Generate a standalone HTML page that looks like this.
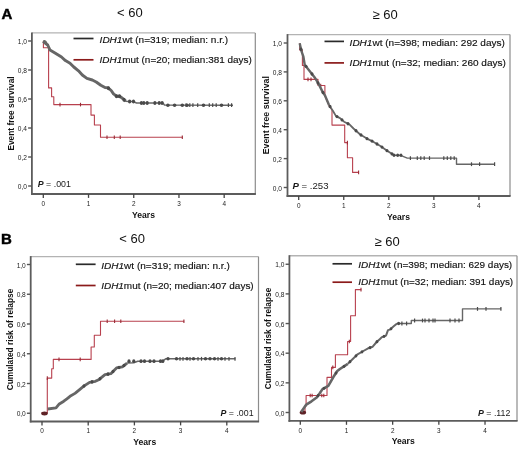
<!DOCTYPE html><html><head><meta charset="utf-8"><style>html,body{margin:0;padding:0;background:#fff;}svg{display:block;filter:blur(0.25px);}text{font-family:"Liberation Sans", sans-serif;}</style></head><body>
<svg width="520" height="449" viewBox="0 0 520 449">
<text x="1.4" y="18.6" font-size="15" font-weight="bold" fill="#000" stroke="#000" stroke-width="0.45">A</text>
<text x="1.0" y="244.2" font-size="15" font-weight="bold" fill="#000" stroke="#000" stroke-width="0.45">B</text>
<text x="117" y="17.4" font-size="13" fill="#111">&lt; 60</text>
<text x="372.5" y="18.7" font-size="13" fill="#111">&#8805; 60</text>
<text x="119.3" y="243.4" font-size="13" fill="#111">&lt; 60</text>
<text x="374.5" y="245.7" font-size="13" fill="#111">&#8805; 60</text>
<line x1="31.9" y1="32.9" x2="255.3" y2="32.9" stroke="#b3b3b3" stroke-width="1.4"/>
<line x1="255.3" y1="32.9" x2="255.3" y2="194" stroke="#8c8c8c" stroke-width="1.2"/>
<line x1="31.9" y1="32.4" x2="31.9" y2="194.9" stroke="#5c5c5c" stroke-width="1.8"/>
<line x1="31.0" y1="194" x2="255.9" y2="194" stroke="#5c5c5c" stroke-width="1.8"/>
<line x1="28.099999999999998" y1="186.00" x2="31.9" y2="186.00" stroke="#555" stroke-width="1.4"/>
<text x="27" y="189.10" font-size="6.6" fill="#222" text-anchor="end">0,0</text>
<line x1="28.099999999999998" y1="157.00" x2="31.9" y2="157.00" stroke="#555" stroke-width="1.4"/>
<text x="27" y="160.10" font-size="6.6" fill="#222" text-anchor="end">0,2</text>
<line x1="28.099999999999998" y1="128.00" x2="31.9" y2="128.00" stroke="#555" stroke-width="1.4"/>
<text x="27" y="131.10" font-size="6.6" fill="#222" text-anchor="end">0,4</text>
<line x1="28.099999999999998" y1="99.00" x2="31.9" y2="99.00" stroke="#555" stroke-width="1.4"/>
<text x="27" y="102.10" font-size="6.6" fill="#222" text-anchor="end">0,6</text>
<line x1="28.099999999999998" y1="70.00" x2="31.9" y2="70.00" stroke="#555" stroke-width="1.4"/>
<text x="27" y="73.10" font-size="6.6" fill="#222" text-anchor="end">0,8</text>
<line x1="28.099999999999998" y1="41.00" x2="31.9" y2="41.00" stroke="#555" stroke-width="1.4"/>
<text x="27" y="44.10" font-size="6.6" fill="#222" text-anchor="end">1,0</text>
<line x1="43.30" y1="194" x2="43.30" y2="197.9" stroke="#444" stroke-width="1.3"/>
<text x="43.30" y="205.60" font-size="6.4" fill="#222" text-anchor="middle">0</text>
<line x1="88.52" y1="194" x2="88.52" y2="197.9" stroke="#444" stroke-width="1.3"/>
<text x="88.52" y="205.60" font-size="6.4" fill="#222" text-anchor="middle">1</text>
<line x1="133.74" y1="194" x2="133.74" y2="197.9" stroke="#444" stroke-width="1.3"/>
<text x="133.74" y="205.60" font-size="6.4" fill="#222" text-anchor="middle">2</text>
<line x1="178.96" y1="194" x2="178.96" y2="197.9" stroke="#444" stroke-width="1.3"/>
<text x="178.96" y="205.60" font-size="6.4" fill="#222" text-anchor="middle">3</text>
<line x1="224.18" y1="194" x2="224.18" y2="197.9" stroke="#444" stroke-width="1.3"/>
<text x="224.18" y="205.60" font-size="6.4" fill="#222" text-anchor="middle">4</text>
<text x="0" y="0" transform="translate(14.4,113.5) rotate(-90)" font-size="9.2" font-weight="bold" fill="#111" text-anchor="middle" textLength="74.2" lengthAdjust="spacingAndGlyphs">Event free survival</text>
<text x="143.5" y="217.8" font-size="8.6" font-weight="bold" fill="#111" text-anchor="middle">Years</text>
<line x1="73.5" y1="38.5" x2="93.5" y2="38.5" stroke="#2a2a2a" stroke-width="1.7"/>
<line x1="73.5" y1="59.8" x2="93.5" y2="59.8" stroke="#8b1a1a" stroke-width="1.7"/>
<text x="99.6" y="42.8" font-size="9.6" fill="#111" stroke="#111" stroke-width="0.15" textLength="128.5" lengthAdjust="spacingAndGlyphs"><tspan font-style="italic">IDH1</tspan>wt (n=319; median: n.r.)</text>
<text x="99.6" y="62.7" font-size="9.6" fill="#111" stroke="#111" stroke-width="0.15" textLength="152.2" lengthAdjust="spacingAndGlyphs"><tspan font-style="italic">IDH1</tspan>mut (n=20; median:381 days)</text>
<text x="37.8" y="186.6" font-size="8.8" fill="#1a1a1a"><tspan font-weight="bold" font-style="italic">P</tspan> = .001</text>
<polyline points="43.40,41.00 43.40,41.00 43.40,47.80 48.60,47.80 48.60,87.90 51.60,87.90 51.60,96.80 53.80,96.80 53.80,104.60 91.00,104.60 91.00,115.10 94.40,115.10 94.40,125.00 100.50,125.00 100.50,137.30 182.60,137.30 182.60,137.30" fill="none" stroke="#b8404e" stroke-width="1.1" stroke-linejoin="round" stroke-linecap="butt" />
<line x1="60.00" y1="102.80" x2="60.00" y2="106.40" stroke="#9a2a35" stroke-width="1.1"/>
<line x1="80.50" y1="102.80" x2="80.50" y2="106.40" stroke="#9a2a35" stroke-width="1.1"/>
<line x1="107.00" y1="135.50" x2="107.00" y2="139.10" stroke="#9a2a35" stroke-width="1.1"/>
<line x1="114.30" y1="135.50" x2="114.30" y2="139.10" stroke="#9a2a35" stroke-width="1.1"/>
<line x1="120.20" y1="135.50" x2="120.20" y2="139.10" stroke="#9a2a35" stroke-width="1.1"/>
<line x1="182.30" y1="135.50" x2="182.30" y2="139.10" stroke="#9a2a35" stroke-width="1.1"/>
<polyline points="43.10,41.40 47.70,45.00 50.00,50.00 55.40,53.20 61.50,57.00 65.40,60.60 70.00,63.20 73.80,67.00 78.50,70.80 82.30,75.00 86.90,78.40 92.30,80.00 96.20,82.00 100.80,85.30 105.00,87.60 108.10,87.80 111.20,90.50 113.50,93.90 116.50,96.20 119.60,96.20 122.70,98.50 125.80,101.20" fill="none" stroke="#666" stroke-width="2.9" stroke-linejoin="round" stroke-linecap="butt" />
<polyline points="122.70,98.50 125.80,101.20 129.60,101.60 133.50,101.60 136.50,103.00 163.00,103.00 164.50,105.10 233.00,105.20" fill="none" stroke="#666" stroke-width="1.5" stroke-linejoin="round" stroke-linecap="butt" />
<ellipse cx="108.50" cy="88.15" rx="1.6" ry="2.0" fill="#4a4a4a"/>
<ellipse cx="116.50" cy="96.20" rx="1.6" ry="2.0" fill="#4a4a4a"/>
<ellipse cx="119.50" cy="96.20" rx="1.6" ry="2.0" fill="#4a4a4a"/>
<ellipse cx="124.00" cy="99.63" rx="1.6" ry="2.0" fill="#4a4a4a"/>
<ellipse cx="129.60" cy="101.60" rx="1.6" ry="2.0" fill="#4a4a4a"/>
<ellipse cx="133.50" cy="101.60" rx="1.6" ry="2.0" fill="#4a4a4a"/>
<ellipse cx="141.40" cy="103.00" rx="1.6" ry="2.0" fill="#4a4a4a"/>
<ellipse cx="143.80" cy="103.00" rx="1.6" ry="2.0" fill="#4a4a4a"/>
<ellipse cx="147.20" cy="103.00" rx="1.6" ry="2.0" fill="#4a4a4a"/>
<ellipse cx="154.90" cy="103.00" rx="1.6" ry="2.0" fill="#4a4a4a"/>
<ellipse cx="159.20" cy="103.00" rx="1.6" ry="2.0" fill="#4a4a4a"/>
<ellipse cx="162.10" cy="103.00" rx="1.6" ry="2.0" fill="#4a4a4a"/>
<line x1="186.10" y1="103.30" x2="186.10" y2="107.10" stroke="#4a4a4a" stroke-width="1.2"/>
<line x1="189.80" y1="103.30" x2="189.80" y2="107.10" stroke="#4a4a4a" stroke-width="1.2"/>
<line x1="192.90" y1="103.30" x2="192.90" y2="107.10" stroke="#4a4a4a" stroke-width="1.2"/>
<line x1="197.70" y1="103.30" x2="197.70" y2="107.10" stroke="#4a4a4a" stroke-width="1.2"/>
<line x1="209.30" y1="103.30" x2="209.30" y2="107.10" stroke="#4a4a4a" stroke-width="1.2"/>
<line x1="212.70" y1="103.30" x2="212.70" y2="107.10" stroke="#4a4a4a" stroke-width="1.2"/>
<line x1="216.20" y1="103.30" x2="216.20" y2="107.10" stroke="#4a4a4a" stroke-width="1.2"/>
<line x1="228.40" y1="103.30" x2="228.40" y2="107.10" stroke="#4a4a4a" stroke-width="1.2"/>
<line x1="231.60" y1="103.30" x2="231.60" y2="107.10" stroke="#4a4a4a" stroke-width="1.2"/>
<ellipse cx="167.90" cy="105.20" rx="1.8" ry="1.8" fill="#4a4a4a"/>
<ellipse cx="174.60" cy="105.20" rx="1.8" ry="1.8" fill="#4a4a4a"/>
<ellipse cx="182.30" cy="105.20" rx="1.8" ry="1.8" fill="#4a4a4a"/>
<ellipse cx="187.10" cy="105.20" rx="1.8" ry="1.8" fill="#4a4a4a"/>
<ellipse cx="203.50" cy="105.20" rx="1.8" ry="1.8" fill="#4a4a4a"/>
<ellipse cx="221.50" cy="105.20" rx="1.8" ry="1.8" fill="#4a4a4a"/>
<ellipse cx="45" cy="42.2" rx="2.4" ry="1.8" fill="#666" transform="rotate(35 45 42.2)"/>
<line x1="287.5" y1="34.6" x2="510" y2="34.6" stroke="#b3b3b3" stroke-width="1.4"/>
<line x1="510" y1="34.6" x2="510" y2="196" stroke="#8c8c8c" stroke-width="1.2"/>
<line x1="287.5" y1="34.1" x2="287.5" y2="196.9" stroke="#5c5c5c" stroke-width="1.8"/>
<line x1="286.6" y1="196" x2="510.6" y2="196" stroke="#5c5c5c" stroke-width="1.8"/>
<line x1="283.7" y1="187.50" x2="287.5" y2="187.50" stroke="#555" stroke-width="1.4"/>
<text x="282" y="190.60" font-size="6.6" fill="#222" text-anchor="end">0,0</text>
<line x1="283.7" y1="158.60" x2="287.5" y2="158.60" stroke="#555" stroke-width="1.4"/>
<text x="282" y="161.70" font-size="6.6" fill="#222" text-anchor="end">0,2</text>
<line x1="283.7" y1="129.70" x2="287.5" y2="129.70" stroke="#555" stroke-width="1.4"/>
<text x="282" y="132.80" font-size="6.6" fill="#222" text-anchor="end">0,4</text>
<line x1="283.7" y1="100.80" x2="287.5" y2="100.80" stroke="#555" stroke-width="1.4"/>
<text x="282" y="103.90" font-size="6.6" fill="#222" text-anchor="end">0,6</text>
<line x1="283.7" y1="71.90" x2="287.5" y2="71.90" stroke="#555" stroke-width="1.4"/>
<text x="282" y="75.00" font-size="6.6" fill="#222" text-anchor="end">0,8</text>
<line x1="283.7" y1="43.00" x2="287.5" y2="43.00" stroke="#555" stroke-width="1.4"/>
<text x="282" y="46.10" font-size="6.6" fill="#222" text-anchor="end">1,0</text>
<line x1="298.70" y1="196" x2="298.70" y2="199.9" stroke="#444" stroke-width="1.3"/>
<text x="298.70" y="207.60" font-size="6.4" fill="#222" text-anchor="middle">0</text>
<line x1="343.75" y1="196" x2="343.75" y2="199.9" stroke="#444" stroke-width="1.3"/>
<text x="343.75" y="207.60" font-size="6.4" fill="#222" text-anchor="middle">1</text>
<line x1="388.80" y1="196" x2="388.80" y2="199.9" stroke="#444" stroke-width="1.3"/>
<text x="388.80" y="207.60" font-size="6.4" fill="#222" text-anchor="middle">2</text>
<line x1="433.85" y1="196" x2="433.85" y2="199.9" stroke="#444" stroke-width="1.3"/>
<text x="433.85" y="207.60" font-size="6.4" fill="#222" text-anchor="middle">3</text>
<line x1="478.90" y1="196" x2="478.90" y2="199.9" stroke="#444" stroke-width="1.3"/>
<text x="478.90" y="207.60" font-size="6.4" fill="#222" text-anchor="middle">4</text>
<text x="0" y="0" transform="translate(269.4,115.2) rotate(-90)" font-size="9.2" font-weight="bold" fill="#111" text-anchor="middle" textLength="78.2" lengthAdjust="spacingAndGlyphs">Event free survival</text>
<text x="398.5" y="219.5" font-size="8.6" font-weight="bold" fill="#111" text-anchor="middle">Years</text>
<line x1="324.5" y1="41.4" x2="344" y2="41.4" stroke="#2a2a2a" stroke-width="1.7"/>
<line x1="324.5" y1="62.9" x2="344" y2="62.9" stroke="#8b1a1a" stroke-width="1.7"/>
<text x="349.6" y="45.8" font-size="9.6" fill="#111" stroke="#111" stroke-width="0.15" textLength="155.3" lengthAdjust="spacingAndGlyphs"><tspan font-style="italic">IDH1</tspan>wt (n=398; median: 292 days)</text>
<text x="349.6" y="65.6" font-size="9.6" fill="#111" stroke="#111" stroke-width="0.15" textLength="156.3" lengthAdjust="spacingAndGlyphs"><tspan font-style="italic">IDH1</tspan>mut (n=32; median: 260 days)</text>
<text x="292.5" y="189.3" font-size="9.6" fill="#1a1a1a"><tspan font-weight="bold" font-style="italic">P</tspan> = .253</text>
<polyline points="299.70,43.30 299.70,50.00 302.40,50.00 302.40,65.40 304.00,65.40 304.00,79.40 318.00,79.40 318.00,85.50 324.90,85.50 324.90,96.00 329.50,106.50 332.00,110.00 332.00,125.10 344.70,125.10 344.70,142.60 347.40,142.60 347.40,157.80 352.60,157.80 352.60,172.40 359.00,172.40" fill="none" stroke="#b8404e" stroke-width="1.1" stroke-linejoin="round" stroke-linecap="butt" />
<line x1="308.00" y1="77.60" x2="308.00" y2="81.20" stroke="#9a2a35" stroke-width="1.1"/>
<line x1="311.00" y1="77.60" x2="311.00" y2="81.20" stroke="#9a2a35" stroke-width="1.1"/>
<line x1="320.70" y1="83.70" x2="320.70" y2="87.30" stroke="#9a2a35" stroke-width="1.1"/>
<line x1="347.40" y1="140.80" x2="347.40" y2="144.40" stroke="#9a2a35" stroke-width="1.1"/>
<line x1="358.60" y1="170.60" x2="358.60" y2="174.20" stroke="#9a2a35" stroke-width="1.1"/>
<polyline points="299.70,43.30 301.30,50.70 303.40,56.70 304.70,64.70 309.40,70.70 314.70,77.40 318.70,84.10 322.70,92.10 325.00,95.50 329.00,105.00" fill="none" stroke="#666" stroke-width="2.4" stroke-linejoin="round" stroke-linecap="butt" />
<polyline points="329.00,105.00 333.00,111.00 336.00,116.10 340.00,118.10 344.00,121.70 349.40,124.40 353.50,128.50 360.20,134.50 366.90,138.60 373.60,141.90 380.40,146.00 387.10,150.70 393.80,155.10 400.60,155.40" fill="none" stroke="#666" stroke-width="1.8" stroke-linejoin="round" stroke-linecap="butt" />
<ellipse cx="301.00" cy="49.31" rx="1.5" ry="1.7" fill="#4a4a4a"/>
<ellipse cx="306.00" cy="66.36" rx="1.5" ry="1.7" fill="#4a4a4a"/>
<ellipse cx="312.00" cy="73.99" rx="1.5" ry="1.7" fill="#4a4a4a"/>
<ellipse cx="318.00" cy="82.93" rx="1.5" ry="1.7" fill="#4a4a4a"/>
<ellipse cx="323.00" cy="92.54" rx="1.5" ry="1.7" fill="#4a4a4a"/>
<ellipse cx="330.00" cy="106.50" rx="1.5" ry="1.7" fill="#4a4a4a"/>
<ellipse cx="337.00" cy="116.60" rx="1.5" ry="1.7" fill="#4a4a4a"/>
<ellipse cx="342.00" cy="119.90" rx="1.5" ry="1.7" fill="#4a4a4a"/>
<ellipse cx="348.00" cy="123.70" rx="1.5" ry="1.7" fill="#4a4a4a"/>
<ellipse cx="356.00" cy="130.74" rx="1.5" ry="1.7" fill="#4a4a4a"/>
<ellipse cx="361.00" cy="134.99" rx="1.5" ry="1.7" fill="#4a4a4a"/>
<ellipse cx="367.00" cy="138.65" rx="1.5" ry="1.7" fill="#4a4a4a"/>
<ellipse cx="372.00" cy="141.11" rx="1.5" ry="1.7" fill="#4a4a4a"/>
<ellipse cx="377.00" cy="143.95" rx="1.5" ry="1.7" fill="#4a4a4a"/>
<ellipse cx="382.00" cy="147.12" rx="1.5" ry="1.7" fill="#4a4a4a"/>
<ellipse cx="387.00" cy="150.63" rx="1.5" ry="1.7" fill="#4a4a4a"/>
<ellipse cx="392.00" cy="153.92" rx="1.5" ry="1.7" fill="#4a4a4a"/>
<polyline points="400.60,155.40 407.30,158.10 456.50,158.10 456.50,164.20 495.00,164.20" fill="none" stroke="#666" stroke-width="1.4" stroke-linejoin="round" stroke-linecap="butt" />
<ellipse cx="394.00" cy="155.30" rx="1.4" ry="1.7" fill="#4a4a4a"/>
<ellipse cx="397.70" cy="155.30" rx="1.4" ry="1.7" fill="#4a4a4a"/>
<ellipse cx="401.00" cy="155.30" rx="1.4" ry="1.7" fill="#4a4a4a"/>
<line x1="410.40" y1="156.20" x2="410.40" y2="160.00" stroke="#4a4a4a" stroke-width="1.2"/>
<line x1="417.30" y1="156.20" x2="417.30" y2="160.00" stroke="#4a4a4a" stroke-width="1.2"/>
<line x1="420.80" y1="156.20" x2="420.80" y2="160.00" stroke="#4a4a4a" stroke-width="1.2"/>
<line x1="424.20" y1="156.20" x2="424.20" y2="160.00" stroke="#4a4a4a" stroke-width="1.2"/>
<line x1="429.50" y1="156.20" x2="429.50" y2="160.00" stroke="#4a4a4a" stroke-width="1.2"/>
<line x1="443.80" y1="156.20" x2="443.80" y2="160.00" stroke="#4a4a4a" stroke-width="1.2"/>
<line x1="447.30" y1="156.20" x2="447.30" y2="160.00" stroke="#4a4a4a" stroke-width="1.2"/>
<line x1="450.80" y1="156.20" x2="450.80" y2="160.00" stroke="#4a4a4a" stroke-width="1.2"/>
<line x1="454.20" y1="156.20" x2="454.20" y2="160.00" stroke="#4a4a4a" stroke-width="1.2"/>
<line x1="471.50" y1="162.30" x2="471.50" y2="166.10" stroke="#4a4a4a" stroke-width="1.2"/>
<line x1="479.60" y1="162.30" x2="479.60" y2="166.10" stroke="#4a4a4a" stroke-width="1.2"/>
<line x1="494.60" y1="162.30" x2="494.60" y2="166.10" stroke="#4a4a4a" stroke-width="1.2"/>
<line x1="30.7" y1="256.6" x2="258.5" y2="256.6" stroke="#b3b3b3" stroke-width="1.4"/>
<line x1="258.5" y1="256.6" x2="258.5" y2="421.5" stroke="#8c8c8c" stroke-width="1.2"/>
<line x1="30.7" y1="256.1" x2="30.7" y2="422.4" stroke="#5c5c5c" stroke-width="1.8"/>
<line x1="29.8" y1="421.5" x2="259.1" y2="421.5" stroke="#5c5c5c" stroke-width="1.8"/>
<line x1="26.9" y1="413.25" x2="30.7" y2="413.25" stroke="#555" stroke-width="1.4"/>
<text x="25.8" y="416.35" font-size="6.6" fill="#222" text-anchor="end">0,0</text>
<line x1="26.9" y1="383.50" x2="30.7" y2="383.50" stroke="#555" stroke-width="1.4"/>
<text x="25.8" y="386.60" font-size="6.6" fill="#222" text-anchor="end">0,2</text>
<line x1="26.9" y1="353.75" x2="30.7" y2="353.75" stroke="#555" stroke-width="1.4"/>
<text x="25.8" y="356.85" font-size="6.6" fill="#222" text-anchor="end">0,4</text>
<line x1="26.9" y1="324.00" x2="30.7" y2="324.00" stroke="#555" stroke-width="1.4"/>
<text x="25.8" y="327.10" font-size="6.6" fill="#222" text-anchor="end">0,6</text>
<line x1="26.9" y1="294.25" x2="30.7" y2="294.25" stroke="#555" stroke-width="1.4"/>
<text x="25.8" y="297.35" font-size="6.6" fill="#222" text-anchor="end">0,8</text>
<line x1="26.9" y1="264.50" x2="30.7" y2="264.50" stroke="#555" stroke-width="1.4"/>
<text x="25.8" y="267.60" font-size="6.6" fill="#222" text-anchor="end">1,0</text>
<line x1="42.00" y1="421.5" x2="42.00" y2="425.4" stroke="#444" stroke-width="1.3"/>
<text x="42.00" y="433.10" font-size="6.4" fill="#222" text-anchor="middle">0</text>
<line x1="88.20" y1="421.5" x2="88.20" y2="425.4" stroke="#444" stroke-width="1.3"/>
<text x="88.20" y="433.10" font-size="6.4" fill="#222" text-anchor="middle">1</text>
<line x1="134.40" y1="421.5" x2="134.40" y2="425.4" stroke="#444" stroke-width="1.3"/>
<text x="134.40" y="433.10" font-size="6.4" fill="#222" text-anchor="middle">2</text>
<line x1="180.60" y1="421.5" x2="180.60" y2="425.4" stroke="#444" stroke-width="1.3"/>
<text x="180.60" y="433.10" font-size="6.4" fill="#222" text-anchor="middle">3</text>
<line x1="226.80" y1="421.5" x2="226.80" y2="425.4" stroke="#444" stroke-width="1.3"/>
<text x="226.80" y="433.10" font-size="6.4" fill="#222" text-anchor="middle">4</text>
<text x="0" y="0" transform="translate(13,339.5) rotate(-90)" font-size="9.2" font-weight="bold" fill="#111" text-anchor="middle" textLength="101.5" lengthAdjust="spacingAndGlyphs">Cumulated risk of relapse</text>
<text x="144.75" y="445.2" font-size="8.6" font-weight="bold" fill="#111" text-anchor="middle">Years</text>
<line x1="75.8" y1="264.3" x2="95.6" y2="264.3" stroke="#2a2a2a" stroke-width="1.7"/>
<line x1="75.8" y1="285.5" x2="95.6" y2="285.5" stroke="#8b1a1a" stroke-width="1.7"/>
<text x="101.2" y="269.0" font-size="9.6" fill="#111" stroke="#111" stroke-width="0.15" textLength="128.6" lengthAdjust="spacingAndGlyphs"><tspan font-style="italic">IDH1</tspan>wt (n=319; median: n.r.)</text>
<text x="101.2" y="289.0" font-size="9.6" fill="#111" stroke="#111" stroke-width="0.15" textLength="152.5" lengthAdjust="spacingAndGlyphs"><tspan font-style="italic">IDH1</tspan>mut (n=20; median:407 days)</text>
<text x="220.5" y="416" font-size="8.8" fill="#1a1a1a"><tspan font-weight="bold" font-style="italic">P</tspan> = .001</text>
<polyline points="41.60,413.00 47.30,413.00 47.30,378.10 51.70,378.10 51.70,368.80 53.30,368.80 53.30,359.40 91.10,359.40 91.10,347.00 94.30,347.00 94.30,335.30 100.50,335.30 100.50,321.30 184.20,321.30" fill="none" stroke="#b8404e" stroke-width="1.1" stroke-linejoin="round" stroke-linecap="butt" />
<line x1="47.30" y1="376.30" x2="47.30" y2="379.90" stroke="#9a2a35" stroke-width="1.1"/>
<line x1="59.00" y1="357.60" x2="59.00" y2="361.20" stroke="#9a2a35" stroke-width="1.1"/>
<line x1="80.20" y1="357.60" x2="80.20" y2="361.20" stroke="#9a2a35" stroke-width="1.1"/>
<line x1="107.20" y1="319.50" x2="107.20" y2="323.10" stroke="#9a2a35" stroke-width="1.1"/>
<line x1="114.60" y1="319.50" x2="114.60" y2="323.10" stroke="#9a2a35" stroke-width="1.1"/>
<line x1="120.80" y1="319.50" x2="120.80" y2="323.10" stroke="#9a2a35" stroke-width="1.1"/>
<line x1="183.90" y1="319.50" x2="183.90" y2="323.10" stroke="#9a2a35" stroke-width="1.1"/>
<ellipse cx="44.5" cy="413.5" rx="3.3" ry="1.9" fill="#5e2226"/>
<polyline points="47.70,409.00 56.00,407.90 58.90,404.30 63.80,401.20 66.90,398.80 70.00,396.30 75.00,393.40 80.50,388.90 83.80,386.20 89.60,382.30 95.40,381.30 99.20,379.40 105.00,374.60 110.80,373.70 116.50,367.90 122.30,366.90 127.10,363.10" fill="none" stroke="#666" stroke-width="2.8" stroke-linejoin="round" stroke-linecap="butt" />
<polyline points="127.10,363.10 133.80,362.70 137.70,361.20 162.70,361.20 165.60,358.80 235.40,358.80" fill="none" stroke="#666" stroke-width="1.5" stroke-linejoin="round" stroke-linecap="butt" />
<ellipse cx="84.00" cy="386.07" rx="1.5" ry="1.8" fill="#4a4a4a"/>
<ellipse cx="92.00" cy="381.89" rx="1.5" ry="1.8" fill="#4a4a4a"/>
<ellipse cx="100.00" cy="378.74" rx="1.5" ry="1.8" fill="#4a4a4a"/>
<ellipse cx="108.00" cy="374.13" rx="1.5" ry="1.8" fill="#4a4a4a"/>
<ellipse cx="113.00" cy="371.46" rx="1.5" ry="1.8" fill="#4a4a4a"/>
<ellipse cx="119.00" cy="367.47" rx="1.5" ry="1.8" fill="#4a4a4a"/>
<ellipse cx="124.00" cy="365.55" rx="1.5" ry="1.8" fill="#4a4a4a"/>
<ellipse cx="129.00" cy="361.20" rx="1.6" ry="1.9" fill="#4a4a4a"/>
<ellipse cx="133.80" cy="361.20" rx="1.6" ry="1.9" fill="#4a4a4a"/>
<ellipse cx="141.00" cy="361.20" rx="1.6" ry="1.9" fill="#4a4a4a"/>
<ellipse cx="144.50" cy="361.20" rx="1.6" ry="1.9" fill="#4a4a4a"/>
<ellipse cx="150.00" cy="361.20" rx="1.6" ry="1.9" fill="#4a4a4a"/>
<ellipse cx="154.00" cy="361.20" rx="1.6" ry="1.9" fill="#4a4a4a"/>
<ellipse cx="160.50" cy="361.20" rx="1.6" ry="1.9" fill="#4a4a4a"/>
<ellipse cx="162.80" cy="361.20" rx="1.6" ry="1.9" fill="#4a4a4a"/>
<ellipse cx="168.00" cy="358.80" rx="1.7" ry="1.8" fill="#4a4a4a"/>
<ellipse cx="176.50" cy="358.80" rx="1.7" ry="1.8" fill="#4a4a4a"/>
<ellipse cx="187.00" cy="358.80" rx="1.7" ry="1.8" fill="#4a4a4a"/>
<ellipse cx="193.50" cy="358.80" rx="1.7" ry="1.8" fill="#4a4a4a"/>
<ellipse cx="205.50" cy="358.80" rx="1.7" ry="1.8" fill="#4a4a4a"/>
<ellipse cx="210.00" cy="358.80" rx="1.7" ry="1.8" fill="#4a4a4a"/>
<ellipse cx="214.50" cy="358.80" rx="1.7" ry="1.8" fill="#4a4a4a"/>
<ellipse cx="221.50" cy="358.80" rx="1.7" ry="1.8" fill="#4a4a4a"/>
<line x1="180.00" y1="356.90" x2="180.00" y2="360.70" stroke="#4a4a4a" stroke-width="1.2"/>
<line x1="183.00" y1="356.90" x2="183.00" y2="360.70" stroke="#4a4a4a" stroke-width="1.2"/>
<line x1="190.00" y1="356.90" x2="190.00" y2="360.70" stroke="#4a4a4a" stroke-width="1.2"/>
<line x1="198.00" y1="356.90" x2="198.00" y2="360.70" stroke="#4a4a4a" stroke-width="1.2"/>
<line x1="201.50" y1="356.90" x2="201.50" y2="360.70" stroke="#4a4a4a" stroke-width="1.2"/>
<line x1="218.00" y1="356.90" x2="218.00" y2="360.70" stroke="#4a4a4a" stroke-width="1.2"/>
<line x1="225.00" y1="356.90" x2="225.00" y2="360.70" stroke="#4a4a4a" stroke-width="1.2"/>
<line x1="229.00" y1="356.90" x2="229.00" y2="360.70" stroke="#4a4a4a" stroke-width="1.2"/>
<line x1="235.00" y1="356.90" x2="235.00" y2="360.70" stroke="#4a4a4a" stroke-width="1.2"/>
<line x1="289.4" y1="255.7" x2="517" y2="255.7" stroke="#b3b3b3" stroke-width="1.4"/>
<line x1="517" y1="255.7" x2="517" y2="420.9" stroke="#8c8c8c" stroke-width="1.2"/>
<line x1="289.4" y1="255.2" x2="289.4" y2="421.79999999999995" stroke="#5c5c5c" stroke-width="1.8"/>
<line x1="288.5" y1="420.9" x2="517.6" y2="420.9" stroke="#5c5c5c" stroke-width="1.8"/>
<line x1="285.59999999999997" y1="412.50" x2="289.4" y2="412.50" stroke="#555" stroke-width="1.4"/>
<text x="284.5" y="415.60" font-size="6.6" fill="#222" text-anchor="end">0,0</text>
<line x1="285.59999999999997" y1="382.85" x2="289.4" y2="382.85" stroke="#555" stroke-width="1.4"/>
<text x="284.5" y="385.95" font-size="6.6" fill="#222" text-anchor="end">0,2</text>
<line x1="285.59999999999997" y1="353.20" x2="289.4" y2="353.20" stroke="#555" stroke-width="1.4"/>
<text x="284.5" y="356.30" font-size="6.6" fill="#222" text-anchor="end">0,4</text>
<line x1="285.59999999999997" y1="323.55" x2="289.4" y2="323.55" stroke="#555" stroke-width="1.4"/>
<text x="284.5" y="326.65" font-size="6.6" fill="#222" text-anchor="end">0,6</text>
<line x1="285.59999999999997" y1="293.90" x2="289.4" y2="293.90" stroke="#555" stroke-width="1.4"/>
<text x="284.5" y="297.00" font-size="6.6" fill="#222" text-anchor="end">0,8</text>
<line x1="285.59999999999997" y1="264.25" x2="289.4" y2="264.25" stroke="#555" stroke-width="1.4"/>
<text x="284.5" y="267.35" font-size="6.6" fill="#222" text-anchor="end">1,0</text>
<line x1="300.30" y1="420.9" x2="300.30" y2="424.79999999999995" stroke="#444" stroke-width="1.3"/>
<text x="300.30" y="432.50" font-size="6.4" fill="#222" text-anchor="middle">0</text>
<line x1="346.48" y1="420.9" x2="346.48" y2="424.79999999999995" stroke="#444" stroke-width="1.3"/>
<text x="346.48" y="432.50" font-size="6.4" fill="#222" text-anchor="middle">1</text>
<line x1="392.66" y1="420.9" x2="392.66" y2="424.79999999999995" stroke="#444" stroke-width="1.3"/>
<text x="392.66" y="432.50" font-size="6.4" fill="#222" text-anchor="middle">2</text>
<line x1="438.84" y1="420.9" x2="438.84" y2="424.79999999999995" stroke="#444" stroke-width="1.3"/>
<text x="438.84" y="432.50" font-size="6.4" fill="#222" text-anchor="middle">3</text>
<line x1="485.02" y1="420.9" x2="485.02" y2="424.79999999999995" stroke="#444" stroke-width="1.3"/>
<text x="485.02" y="432.50" font-size="6.4" fill="#222" text-anchor="middle">4</text>
<text x="0" y="0" transform="translate(271,338.5) rotate(-90)" font-size="9.2" font-weight="bold" fill="#111" text-anchor="middle" textLength="101.5" lengthAdjust="spacingAndGlyphs">Cumulated risk of relapse</text>
<text x="403.2" y="444.2" font-size="8.6" font-weight="bold" fill="#111" text-anchor="middle">Years</text>
<line x1="332.5" y1="263.8" x2="352" y2="263.8" stroke="#2a2a2a" stroke-width="1.7"/>
<line x1="332.5" y1="282.2" x2="352" y2="282.2" stroke="#8b1a1a" stroke-width="1.7"/>
<text x="358.2" y="268.3" font-size="9.6" fill="#111" stroke="#111" stroke-width="0.15" textLength="154" lengthAdjust="spacingAndGlyphs"><tspan font-style="italic">IDH1</tspan>wt (n=398; median: 629 days)</text>
<text x="358.2" y="285.4" font-size="9.6" fill="#111" stroke="#111" stroke-width="0.15" textLength="155" lengthAdjust="spacingAndGlyphs"><tspan font-style="italic">IDH1</tspan>mut (n=32; median: 391 days)</text>
<text x="478" y="416" font-size="8.8" fill="#1a1a1a"><tspan font-weight="bold" font-style="italic">P</tspan> = .112</text>
<polyline points="300.00,412.30 305.00,412.30 305.00,405.90 306.10,405.90 306.10,395.50 327.00,395.50 327.00,377.40 331.50,377.40 331.50,367.40 335.40,367.40 335.40,354.70 347.60,354.70 347.60,341.50 350.60,341.50 350.60,315.80 355.40,315.80 355.40,289.60 361.30,289.60" fill="none" stroke="#b8404e" stroke-width="1.1" stroke-linejoin="round" stroke-linecap="butt" />
<line x1="310.20" y1="393.70" x2="310.20" y2="397.30" stroke="#9a2a35" stroke-width="1.1"/>
<line x1="312.10" y1="393.70" x2="312.10" y2="397.30" stroke="#9a2a35" stroke-width="1.1"/>
<line x1="321.80" y1="393.70" x2="321.80" y2="397.30" stroke="#9a2a35" stroke-width="1.1"/>
<line x1="323.80" y1="393.70" x2="323.80" y2="397.30" stroke="#9a2a35" stroke-width="1.1"/>
<line x1="332.80" y1="365.60" x2="332.80" y2="369.20" stroke="#9a2a35" stroke-width="1.1"/>
<line x1="349.30" y1="339.70" x2="349.30" y2="343.30" stroke="#9a2a35" stroke-width="1.1"/>
<line x1="361.00" y1="287.80" x2="361.00" y2="291.40" stroke="#9a2a35" stroke-width="1.1"/>
<ellipse cx="302.9" cy="412.5" rx="3.2" ry="2" fill="#5e2226"/>
<polyline points="301.20,412.00 306.30,404.60 311.50,401.30 316.70,397.50 319.90,393.00 322.50,389.10 328.30,385.80 330.90,381.30 333.50,376.80 337.30,371.00 339.90,369.00 347.80,363.80" fill="none" stroke="#666" stroke-width="2.6" stroke-linejoin="round" stroke-linecap="butt" />
<polyline points="347.80,363.80 352.50,359.20 357.10,354.70 363.40,351.00 368.10,348.30 372.70,346.70 376.60,342.00 380.00,338.90 382.00,337.10 386.00,335.60 388.00,330.10 390.00,329.60 394.00,326.10 397.10,323.50" fill="none" stroke="#666" stroke-width="2.0" stroke-linejoin="round" stroke-linecap="butt" />
<polyline points="397.10,323.50 411.30,323.50 411.30,320.50 462.50,320.50 462.50,308.90 501.20,308.90" fill="none" stroke="#666" stroke-width="1.4" stroke-linejoin="round" stroke-linecap="butt" />
<ellipse cx="318.00" cy="395.67" rx="1.4" ry="1.6" fill="#4a4a4a"/>
<ellipse cx="324.00" cy="388.25" rx="1.4" ry="1.6" fill="#4a4a4a"/>
<ellipse cx="336.00" cy="372.98" rx="1.4" ry="1.6" fill="#4a4a4a"/>
<ellipse cx="344.00" cy="366.30" rx="1.4" ry="1.6" fill="#4a4a4a"/>
<ellipse cx="350.00" cy="361.65" rx="1.4" ry="1.6" fill="#4a4a4a"/>
<ellipse cx="356.00" cy="355.78" rx="1.4" ry="1.6" fill="#4a4a4a"/>
<ellipse cx="362.00" cy="351.82" rx="1.4" ry="1.6" fill="#4a4a4a"/>
<ellipse cx="370.00" cy="347.64" rx="1.4" ry="1.6" fill="#4a4a4a"/>
<ellipse cx="377.00" cy="341.64" rx="1.4" ry="1.6" fill="#4a4a4a"/>
<ellipse cx="384.00" cy="336.35" rx="1.4" ry="1.6" fill="#4a4a4a"/>
<ellipse cx="391.00" cy="328.73" rx="1.4" ry="1.6" fill="#4a4a4a"/>
<ellipse cx="398.60" cy="323.50" rx="1.5" ry="1.8" fill="#4a4a4a"/>
<line x1="401.90" y1="321.60" x2="401.90" y2="325.40" stroke="#4a4a4a" stroke-width="1.2"/>
<line x1="406.60" y1="321.60" x2="406.60" y2="325.40" stroke="#4a4a4a" stroke-width="1.2"/>
<line x1="414.60" y1="318.60" x2="414.60" y2="322.40" stroke="#4a4a4a" stroke-width="1.2"/>
<line x1="422.50" y1="318.60" x2="422.50" y2="322.40" stroke="#4a4a4a" stroke-width="1.2"/>
<line x1="425.00" y1="318.60" x2="425.00" y2="322.40" stroke="#4a4a4a" stroke-width="1.2"/>
<line x1="429.00" y1="318.60" x2="429.00" y2="322.40" stroke="#4a4a4a" stroke-width="1.2"/>
<line x1="433.00" y1="318.60" x2="433.00" y2="322.40" stroke="#4a4a4a" stroke-width="1.2"/>
<line x1="435.00" y1="318.60" x2="435.00" y2="322.40" stroke="#4a4a4a" stroke-width="1.2"/>
<line x1="450.00" y1="318.60" x2="450.00" y2="322.40" stroke="#4a4a4a" stroke-width="1.2"/>
<line x1="455.00" y1="318.60" x2="455.00" y2="322.40" stroke="#4a4a4a" stroke-width="1.2"/>
<line x1="459.00" y1="318.60" x2="459.00" y2="322.40" stroke="#4a4a4a" stroke-width="1.2"/>
<line x1="477.50" y1="307.00" x2="477.50" y2="310.80" stroke="#4a4a4a" stroke-width="1.2"/>
<line x1="486.00" y1="307.00" x2="486.00" y2="310.80" stroke="#4a4a4a" stroke-width="1.2"/>
<line x1="500.90" y1="307.00" x2="500.90" y2="310.80" stroke="#4a4a4a" stroke-width="1.2"/>
</svg></body></html>
